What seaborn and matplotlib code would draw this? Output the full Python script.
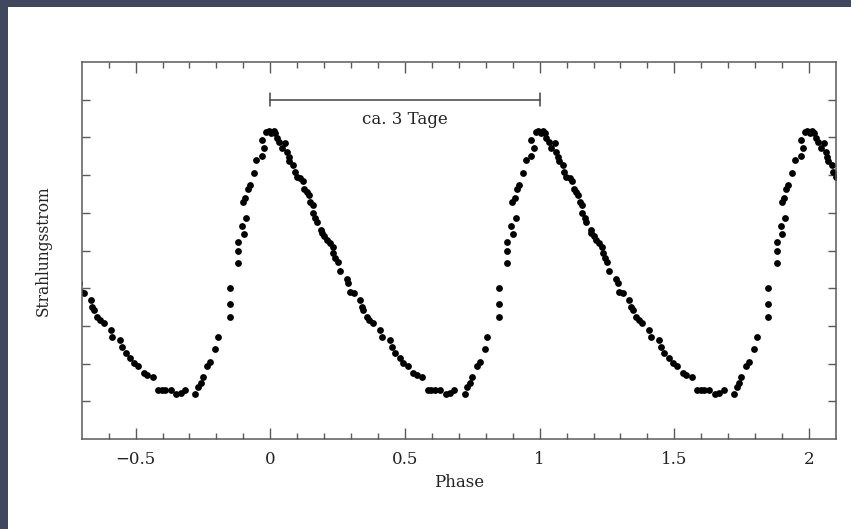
import numpy as np
import pandas as pd
import matplotlib
matplotlib.use("Agg")
import matplotlib.pyplot as plt
import seaborn as sns

# Phased light curve of one pulsation cycle (phase 0..1, relative flux)
phase = [0.994, 0.004, 0.012, 0.019, 0.025, 0.033, 0.043, 0.056, 0.062, 0.068,
         0.070, 0.086, 0.090, 0.099, 0.111, 0.120, 0.127, 0.136, 0.144, 0.148,
         0.157, 0.157, 0.167, 0.173, 0.189, 0.191, 0.201, 0.210, 0.222, 0.231,
         0.234, 0.241, 0.251, 0.259, 0.284, 0.290, 0.296, 0.309, 0.333, 0.340,
         0.346, 0.358, 0.368, 0.381, 0.407, 0.414, 0.444, 0.451, 0.463, 0.481,
         0.494, 0.510, 0.531, 0.543, 0.564, 0.585, 0.598, 0.611, 0.630, 0.651,
         0.667, 0.683, 0.722, 0.731, 0.741, 0.749, 0.766, 0.778, 0.796, 0.806,
         0.849, 0.849, 0.849, 0.880, 0.880, 0.880, 0.901, 0.895, 0.911, 0.899,
         0.907, 0.916, 0.923, 0.938, 0.948, 0.969, 0.978, 0.969, 0.985]
flux = [8.17, 8.11, 8.17, 8.11, 7.99, 7.89, 7.73, 7.84, 7.60, 7.49,
        7.37, 7.27, 7.07, 6.96, 6.93, 6.84, 6.63, 6.54, 6.47, 6.29,
        6.21, 5.99, 5.85, 5.76, 5.54, 5.46, 5.39, 5.28, 5.19, 5.10,
        4.93, 4.81, 4.70, 4.46, 4.24, 4.13, 3.91, 3.88, 3.69, 3.51,
        3.42, 3.24, 3.16, 3.08, 2.89, 2.71, 2.63, 2.45, 2.27, 2.14,
        2.01, 1.94, 1.76, 1.70, 1.64, 1.30, 1.30, 1.30, 1.30, 1.19,
        1.23, 1.30, 1.19, 1.39, 1.48, 1.64, 1.94, 2.05, 2.38, 2.71,
        3.24, 3.58, 4.01, 4.67, 4.99, 5.22, 5.43, 5.65, 5.85, 6.28,
        6.40, 6.63, 6.74, 7.05, 7.40, 7.51, 7.73, 7.93, 8.15]

# The cycle is repeated to show several periods
cycle_offsets = [-1, 0, 1, 2]
x_min, x_max = -0.7, 2.1
y_min, y_max = 0, 10
x_major = [-0.5, 0, 0.5, 1, 1.5, 2]
x_tick_labels = ["\u22120.5", "0", "0.5", "1", "1.5", "2"]

# Period marker
period_start, period_end, period_level = 0.0, 1.0, 9.0
period_text = "ca. 3 Tage"

frames = [pd.DataFrame({"Phase": np.array(phase) + k, "Flux": flux}) for k in cycle_offsets]
df = pd.concat(frames, ignore_index=True)

sns.set_style("ticks")
plt.rcParams["font.family"] = ["DejaVu Serif"]

fig = plt.figure(figsize=(8.51, 5.29), dpi=100)
fig.patch.set_facecolor("#404860")
panel = plt.Rectangle((8 / 851, 0), 1 - 8 / 851, 1 - 7 / 529,
                      transform=fig.transFigure, facecolor="white",
                      edgecolor="none", zorder=-10)
fig.patches.append(panel)

ax = fig.add_axes([81.7 / 851, 1 - 439 / 529, (836 - 81.7) / 851, (439 - 62) / 529])
ax.set_zorder(5)
ax.set_facecolor("white")

sns.scatterplot(data=df, x="Phase", y="Flux", ax=ax, color="black",
                s=24, linewidth=0, legend=False)

ax.set_xlim(x_min, x_max)
ax.set_ylim(y_min, y_max)

ax.set_xticks(x_major)
ax.set_xticklabels(x_tick_labels)
ax.set_xticks(np.arange(-0.6, 2.1, 0.1), minor=True)
ax.set_yticks(np.arange(y_min + 1, y_max, 1))
ax.set_yticklabels([])

spine_color = "#5a5a5a"
for s in ax.spines.values():
    s.set_color(spine_color)
    s.set_linewidth(1.1)
    s.set_visible(True)

ax.tick_params(axis="x", which="major", direction="in", length=8, width=1.0,
               color=spine_color, top=True, bottom=True, pad=9,
               labelsize=12, labelcolor="#222222")
ax.tick_params(axis="x", which="minor", direction="in", length=4.5, width=1.0,
               color=spine_color, top=True, bottom=True)
ax.tick_params(axis="y", which="major", direction="in", length=5.5, width=1.0,
               color=spine_color, left=True, right=True)

ax.set_xlabel("Phase", fontsize=12, color="#222222", labelpad=4)
ax.set_ylabel("Strahlungsstrom", fontsize=11.2, color="#222222", labelpad=18)

# Period bracket
bar_color = "#444444"
cap = 0.17
ax.plot([period_start, period_end], [period_level, period_level],
        color=bar_color, lw=1.1)
for xe in (period_start, period_end):
    ax.plot([xe, xe], [period_level - cap, period_level + cap],
            color=bar_color, lw=1.1)
ax.text((period_start + period_end) / 2, period_level - 0.52, period_text,
        ha="center", va="center", fontsize=12, color="#222222")

fig.savefig("out.png", dpi=100, facecolor=fig.get_facecolor())
